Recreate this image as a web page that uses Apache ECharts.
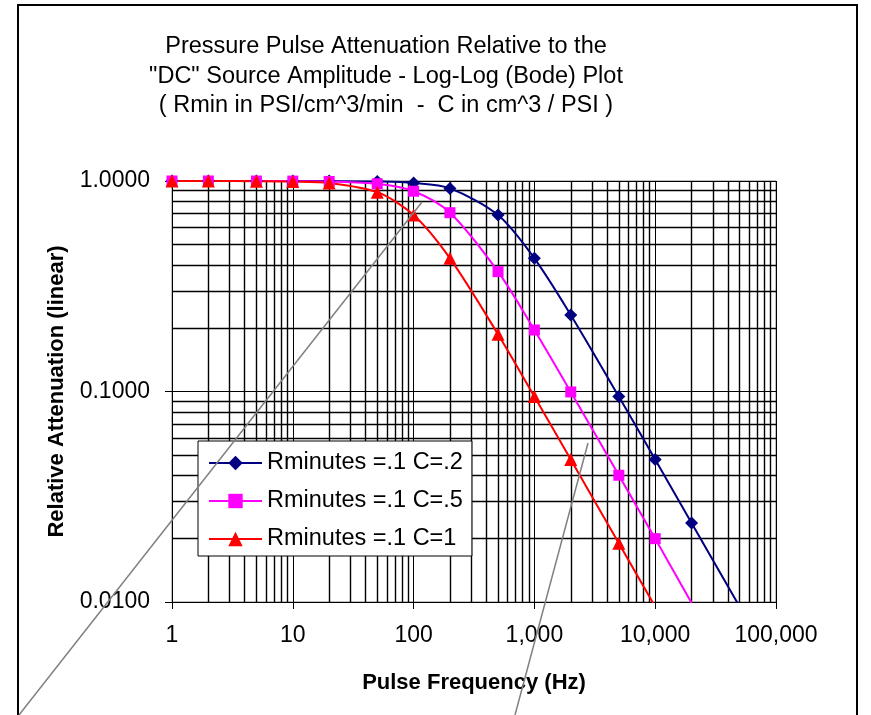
<!DOCTYPE html>
<html>
<head>
<meta charset="utf-8">
<title>Pressure Pulse Attenuation</title>
<script src="https://cdn.jsdelivr.net/npm/echarts@6/dist/echarts.min.js"></script>
<style>
    html, body { margin: 0; padding: 0; background: #fff; }
    #chart { width: 871px; height: 715px; }
</style>
</head>
<body>
<div id="chart"></div>
<script>
    // pulse frequencies (Hz) where the points sit
    var freqs = [1, 2, 5, 10, 20, 50, 100, 200, 500, 1000, 2000, 5000, 10000, 20000, 50000];

    // relative attenuation
    var attC02 = [1.0, 1.0, 0.9999, 0.9998, 0.9991, 0.9945, 0.9785, 0.922, 0.689, 0.429, 0.231, 0.0946, 0.0475, 0.0237, 0.0095];
    var attC05 = [1.0, 1.0, 0.9997, 0.9988, 0.995, 0.970, 0.894, 0.707, 0.371, 0.196, 0.0995, 0.040, 0.020, 0.0099, 0.0040];
    var attC1 = [1.0, 0.9998, 0.9986, 0.9945, 0.9785, 0.885, 0.689, 0.429, 0.187, 0.0946, 0.0475, 0.0190, 0.0095, 0.0048, 0.0019];

    var seriesNames = ['Rminutes =.1 C=.2', 'Rminutes =.1 C=.5', 'Rminutes =.1 C=1'];

    var xTickLabels = ['1', '10', '100', '1,000', '10,000', '100,000'];
    var xDecades = [1, 10, 100, 1000, 10000];
    var yDecades = [0.01, 0.1];

    var titleLines = [
        'Pressure Pulse Attenuation Relative to the',
        '"DC" Source Amplitude - Log-Log (Bode) Plot',
        '( Rmin in PSI/cm^3/min  -  C in cm^3 / PSI )'
    ];

    var FONT = '"Liberation Sans", Arial, sans-serif';

    function pairs(vals) {
        return freqs.map(function (f, i) { return [f, vals[i]]; });
    }

    // minor grid lines (2..9 in every decade)
    var minorX = [], minorY = [];
    xDecades.forEach(function (d) {
        for (var k = 2; k <= 9; k++) minorX.push(d * k);
    });
    yDecades.forEach(function (d) {
        for (var k = 2; k <= 9; k++) minorY.push(+(d * k).toPrecision(6));
    });

    var chart = echarts.init(document.getElementById('chart'));

    var option = {
        backgroundColor: '#fff',
        animation: false,
        textStyle: { fontFamily: FONT },
        graphic: [
            {
                type: 'rect', silent: true, z: 0,
                shape: { x: 18, y: 5, width: 839, height: 730 },
                style: { fill: 'none', stroke: '#000', lineWidth: 2 }
            },
            {
                type: 'text', silent: true,
                x: 386, y: 32,
                style: {
                    text: titleLines.join('\n'),
                    font: '23.5px ' + FONT,
                    lineHeight: 29.5,
                    fill: '#000',
                    align: 'center',
                    verticalAlign: 'top'
                }
            },
            {
                type: 'line', silent: true, z: 100,
                shape: { x1: 19, y1: 715, x2: 422, y2: 202 },
                style: { stroke: '#808080', lineWidth: 1.5 }
            },
            {
                type: 'line', silent: true, z: 100,
                shape: { x1: 515, y1: 715, x2: 588, y2: 443 },
                style: { stroke: '#808080', lineWidth: 1.5 }
            }
        ],
        grid: {
            left: 172, right: 95, top: 181, bottom: 113,
            show: true, borderColor: '#808080', borderWidth: 1,
            backgroundColor: 'transparent'
        },
        legend: {
            orient: 'vertical',
            left: 198, top: 441,
            z: 10,
            data: seriesNames,
            itemWidth: 53, itemHeight: 18, itemGap: 12,
            padding: [9, 9, 4, 10],
            backgroundColor: '#fff',
            borderColor: '#000', borderWidth: 1,
            textStyle: { fontSize: 23.5, color: '#000', fontFamily: FONT, lineHeight: 26 }
        },
        xAxis: {
            type: 'log', logBase: 10,
            min: 1, max: 100000,
            name: 'Pulse Frequency (Hz)',
            nameLocation: 'middle', nameGap: 70,
            nameTextStyle: { fontSize: 22, fontWeight: 'bold', color: '#000', fontFamily: FONT },
            axisLine: { show: true, onZero: false, lineStyle: { color: '#000', width: 1 } },
            axisTick: { show: true, length: 7, lineStyle: { color: '#000' } },
            axisLabel: {
                fontSize: 23, color: '#000', margin: 22,
                formatter: function (v) {
                    return xTickLabels[Math.round(Math.log10(v))];
                }
            },
            splitLine: { show: true, lineStyle: { color: '#000', width: 1 } },
            minorTick: { show: false },
            minorSplitLine: { show: false }
        },
        yAxis: {
            type: 'log', logBase: 10,
            min: 0.01, max: 1,
            name: 'Relative Attenuation (linear)',
            nameLocation: 'middle', nameGap: 104, nameRotate: 90,
            nameTextStyle: { fontSize: 22, fontWeight: 'bold', color: '#000', fontFamily: FONT },
            axisLine: { show: true, lineStyle: { color: '#000', width: 1 } },
            axisTick: { show: true, length: 7, lineStyle: { color: '#000' } },
            axisLabel: {
                fontSize: 23, color: '#000', margin: 22,
                formatter: function (v) { return v.toFixed(4); }
            },
            splitLine: { show: true, lineStyle: { color: '#000', width: 1 } }
        },
        series: [
            {
                name: 'minor-grid', type: 'line', data: [], silent: true, z: 1,
                markLine: {
                    silent: true, symbol: 'none', animation: false, z: 1,
                    label: { show: false },
                    emphasis: { disabled: true },
                    lineStyle: { color: '#000', width: 1.4, type: 'solid' },
                    data: minorX.map(function (v) { return { xAxis: v }; })
                        .concat(minorY.map(function (v) { return { yAxis: v }; }))
                }
            },
            {
                name: seriesNames[0], type: 'line', data: pairs(attC02),
                symbol: 'diamond', symbolSize: 13, smooth: 0.3, z: 3,
                itemStyle: { color: '#000080' },
                lineStyle: { color: '#000080', width: 2 }
            },
            {
                name: seriesNames[1], type: 'line', data: pairs(attC05),
                symbol: 'rect', symbolSize: 11, smooth: 0.3, z: 3,
                itemStyle: { color: '#FF00FF' },
                lineStyle: { color: '#FF00FF', width: 2 }
            },
            {
                name: seriesNames[2], type: 'line', data: pairs(attC1),
                symbol: 'triangle', symbolSize: 13, smooth: 0.3, z: 3,
                itemStyle: { color: '#FF0000' },
                lineStyle: { color: '#FF0000', width: 2 }
            }
        ]
    };

    chart.setOption(option);
</script>
</body>
</html>
